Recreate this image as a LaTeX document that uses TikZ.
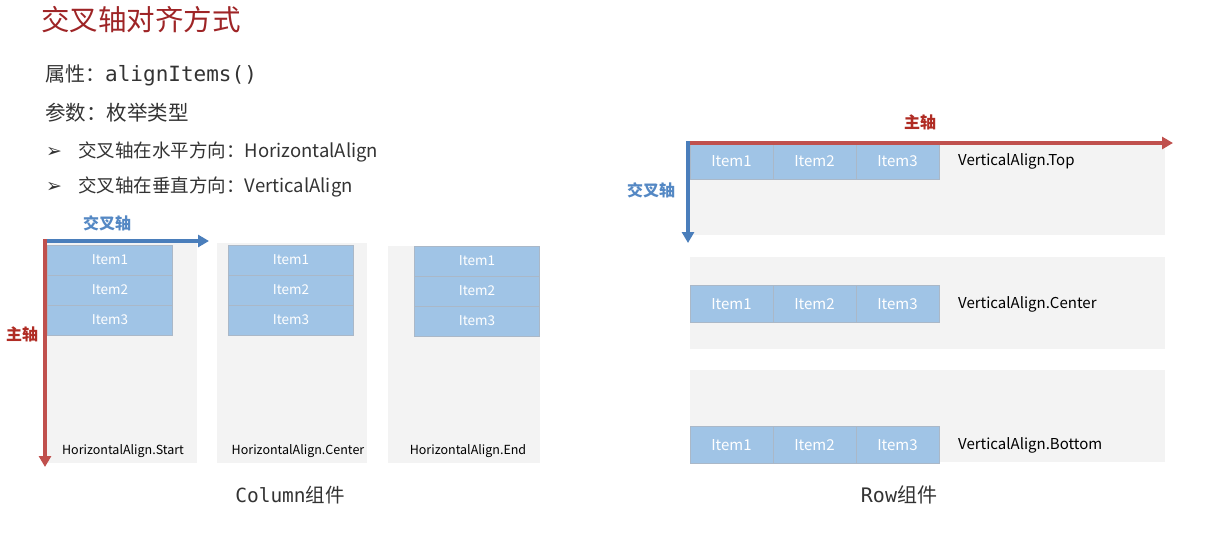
\documentclass[tikz,border=0pt]{standalone}
\usepackage{fontspec}
\usepackage{xcolor}
\usepackage{tikz}
\usetikzlibrary{arrows.meta,positioning}

\newfontfamily\cjk{Noto Sans CJK SC}
\newfontfamily\codefont{DejaVu Sans Mono}
\newfontfamily\symfont{DejaVu Sans}

\definecolor{titlered}{RGB}{158,36,38}
\definecolor{bodygray}{RGB}{51,51,51}
\definecolor{mainred}{RGB}{192,80,77}
\definecolor{mainlabel}{RGB}{176,44,36}
\definecolor{crossblue}{RGB}{74,126,187}
\definecolor{crosslabel}{RGB}{84,136,196}
\definecolor{itemblue}{RGB}{160,196,230}
\definecolor{itemline}{RGB}{170,184,200}
\definecolor{panelgray}{RGB}{243,243,243}

\begin{document}
\begin{tikzpicture}[
    x=1pt, y=-1pt,
    panel/.style={fill=panelgray, draw=none, inner sep=0pt},
    colitem/.style={draw=itemline, line width=0.8pt, fill=itemblue, text=white, inner sep=0pt,
        minimum width=125pt, minimum height=30pt, font=\cjk\fontsize{13.5}{15}\selectfont},
    rowitem/.style={draw=itemline, line width=0.8pt, fill=itemblue, text=white, inner sep=0pt,
        minimum width=83pt, minimum height=37pt, font=\cjk\fontsize{15}{17}\selectfont},
    caption/.style={text=black, inner sep=0pt, font=\cjk\fontsize{12.5}{14}\selectfont},
    rowcap/.style={text=black, inner sep=0pt, anchor=west, font=\cjk\fontsize{15}{17}\selectfont},
    bodytext/.style={text=bodygray, inner sep=0pt, anchor=west},
    mainaxis/.style={draw=mainred, line width=3.5pt, -{Triangle[length=11pt,width=12pt]}},
    crossaxis/.style={draw=crossblue, line width=3.5pt, -{Triangle[length=11pt,width=12pt]}}
]
\useasboundingbox (0,0) rectangle (1230,559);

% heading and text
\node[text=titlered, inner sep=0pt, anchor=west, font=\cjk\fontsize{28.5}{32}\selectfont] (title) at (41,20) {交叉轴对齐方式};
\node[bodytext, font=\fontsize{20}{24}\selectfont] (prop) at (45,75) {{\cjk 属性：}{\codefont\fontsize{21}{24}\selectfont alignItems()}};
\node[bodytext, font=\cjk\fontsize{20.5}{24}\selectfont] (param) at (45,113) {参数：枚举类型};
\node[bodytext, font=\symfont\fontsize{19}{20}\selectfont] (bul1) at (46,152) {➢};
\node[bodytext, font=\cjk\fontsize{18.5}{22}\selectfont] (hor) at (78,152) {交叉轴在水平方向：HorizontalAlign};
\node[bodytext, font=\symfont\fontsize{19}{20}\selectfont] (bul2) at (46,187) {➢};
\node[bodytext, font=\cjk\fontsize{18.5}{22}\selectfont] (ver) at (78,187) {交叉轴在垂直方向：VerticalAlign};

% Column panels
\node[panel, minimum width=154pt, minimum height=220pt] (start) at (120,353) {};
\node[panel, minimum width=150pt, minimum height=220pt] (center) at (292,353) {};
\node[panel, minimum width=152pt, minimum height=217pt] (end) at (464,354) {};

\node[colitem] (s1) at (110,260) {Item1};
\node[colitem] (s2) at (110,290) {Item2};
\node[colitem] (s3) at (110,320) {Item3};
\node[colitem] (c1) at (291,260) {Item1};
\node[colitem] (c2) at (291,290) {Item2};
\node[colitem] (c3) at (291,320) {Item3};
\node[colitem] (e1) at (477,261) {Item1};
\node[colitem] (e2) at (477,291) {Item2};
\node[colitem] (e3) at (477,321) {Item3};

\node[caption] (startcap) at (123,451) {HorizontalAlign.Start};
\node[caption] (centercap) at (298,451) {HorizontalAlign.Center};
\node[caption] (endcap) at (468,451) {HorizontalAlign.End};

\coordinate (colo) at (43,241);
\coordinate (colx) at (209,241);
\coordinate (colm) at (45,239);
\coordinate (coly) at (45,467);
\draw[crossaxis] (colo) -- (colx);
\draw[mainaxis] (colm) -- (coly);
\node[text=crosslabel, inner sep=0pt, font=\cjk\bfseries\fontsize{16}{18}\selectfont] (colcross) at (107,223) {交叉轴};
\node[text=mainlabel, inner sep=0pt, font=\cjk\bfseries\fontsize{16}{18}\selectfont] (colmain) at (22,334) {主轴};

\node[inner sep=0pt, text=bodygray, font=\fontsize{19.5}{22}\selectfont] (colname) at (290,495) {{\codefont Column}{\cjk 组件}};

% Row panels
\node[panel, minimum width=475pt, minimum height=92pt] (top) at (927,189) {};
\node[panel, minimum width=475pt, minimum height=92pt] (middle) at (927,303) {};
\node[panel, minimum width=475pt, minimum height=92pt] (bottom) at (927,416) {};

\node[rowitem] (t1) at (731.5,161) {Item1};
\node[rowitem] (t2) at (814.5,161) {Item2};
\node[rowitem] (t3) at (897.5,161) {Item3};
\node[rowitem] (m1) at (731.5,304) {Item1};
\node[rowitem] (m2) at (814.5,304) {Item2};
\node[rowitem] (m3) at (897.5,304) {Item3};
\node[rowitem] (b1) at (731.5,445) {Item1};
\node[rowitem] (b2) at (814.5,445) {Item2};
\node[rowitem] (b3) at (897.5,445) {Item3};

\node[rowcap] (topcap) at (958,161) {VerticalAlign.Top};
\node[rowcap] (middlecap) at (958,304) {VerticalAlign.Center};
\node[rowcap] (bottomcap) at (958,445) {VerticalAlign.Bottom};

\coordinate (rowo) at (687,143);
\coordinate (rowx) at (1173,143);
\coordinate (rowc) at (688,141);
\coordinate (rowy) at (688,243);
\draw[mainaxis] (rowo) -- (rowx);
\draw[crossaxis] (rowc) -- (rowy);
\node[text=mainlabel, inner sep=0pt, font=\cjk\bfseries\fontsize{16}{18}\selectfont] (rowmain) at (920,122) {主轴};
\node[text=crosslabel, inner sep=0pt, font=\cjk\bfseries\fontsize{16}{18}\selectfont] (rowcross) at (651,190) {交叉轴};

\node[inner sep=0pt, text=bodygray, font=\fontsize{20}{22}\selectfont] (rowname) at (899,495) {{\codefont Row}{\cjk 组件}};
\end{tikzpicture}
\end{document}
